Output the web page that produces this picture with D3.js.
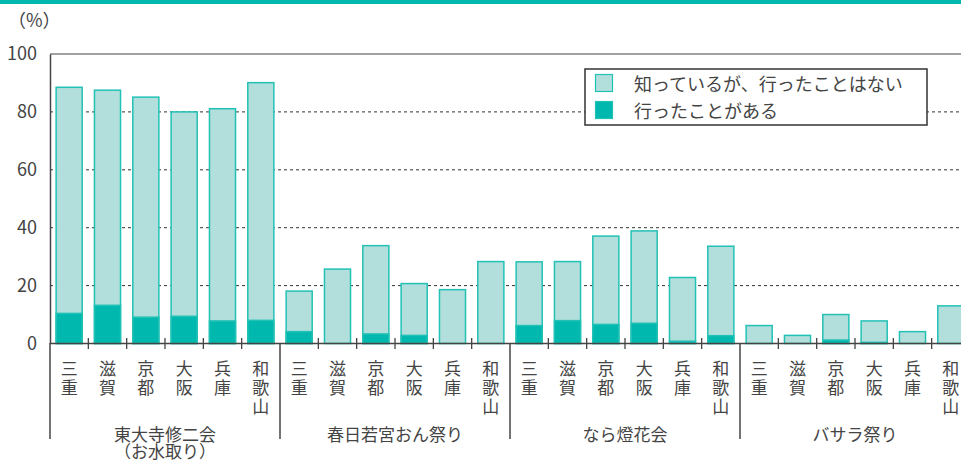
<!DOCTYPE html>
<html lang="ja"><head><meta charset="utf-8">
<script src="https://cdn.jsdelivr.net/npm/d3@7"></script>
<style>
html,body{margin:0;padding:0;background:#fff;}
svg{display:block;font-family:"Noto Sans CJK JP","Noto Sans",sans-serif;}
</style></head>
<body>
<script>
const groups = ["東大寺修二会\n（お水取り）", "春日若宮おん祭り", "なら燈花会", "バサラ祭り"];
const prefectures = ["三重", "滋賀", "京都", "大阪", "兵庫", "和歌山"];
// total = 知っている (incl. visited), visited = 行ったことがある
const totalValues = [
  88.5, 87.5, 85.1, 80.0, 81.1, 90.1,
  18.1, 25.7, 33.8, 20.7, 18.6, 28.3,
  28.2, 28.3, 37.1, 38.9, 22.8, 33.6,
  6.2, 2.8, 10.0, 7.8, 4.1, 13.0
];
const visitedValues = [
  10.4, 13.2, 9.1, 9.4, 7.8, 8.0,
  4.1, 0, 3.3, 2.8, 0, 0,
  6.2, 7.9, 6.6, 7.0, 0.8, 2.7,
  0, 0, 1.2, 0.4, 0, 0
];
const yTicks = [0, 20, 40, 60, 80, 100];
const legendLabels = ["知っているが、行ったことはない", "行ったことがある"];

const W = 961, H = 461;
const lightFill = "#b2dfdb", lightStroke = "#22c1b6", darkFill = "#00b8ae", textCol = "#444";

const svg = d3.select("body").append("svg").attr("width", W).attr("height", H);

svg.append("rect").attr("x", 0).attr("y", 0).attr("width", W).attr("height", 4).attr("fill", "#00b8ae");

const keys = [];
groups.forEach((g, gi) => prefectures.forEach((p, pi) => keys.push(gi + "-" + pi)));

const x = d3.scaleBand().domain(keys).range([50, 970]).paddingInner(0.32).paddingOuter(0.16);
const y = d3.scaleLinear().domain([0, 100]).range([343.5, 54]);

svg.append("g").selectAll("line").data(yTicks.filter(d => d > 0 && d < 100)).join("line")
  .attr("x1", 50).attr("x2", W).attr("y1", d => y(d)).attr("y2", d => y(d))
  .attr("stroke", "#333").attr("stroke-width", 1).attr("stroke-dasharray", "3,3");

svg.append("line").attr("x1", 50).attr("x2", W).attr("y1", y(100)).attr("y2", y(100))
  .attr("stroke", "#444").attr("stroke-width", 1.2);

const yAxis = d3.axisLeft(y).tickValues(yTicks).tickSize(0).tickPadding(13);
const ya = svg.append("g").attr("transform", "translate(50,0)").call(yAxis);
ya.select(".domain").attr("stroke", "#444").attr("stroke-width", 1.5);
ya.selectAll("text").attr("fill", textCol).attr("font-size", 18)
  .attr("font-family", "'Noto Sans CJK JP',sans-serif");

svg.append("text").attr("x", 8).attr("y", 19).attr("dominant-baseline", "central")
  .attr("font-size", 18).attr("fill", textCol).text("（%）");

const bars = svg.append("g");
bars.selectAll("rect.total").data(keys).join("rect").attr("class", "total")
  .attr("x", k => x(k)).attr("width", x.bandwidth())
  .attr("y", (k, i) => y(totalValues[i])).attr("height", (k, i) => y(0) - y(totalValues[i]))
  .attr("fill", lightFill).attr("stroke", lightStroke).attr("stroke-width", 1.5);
bars.selectAll("rect.visited").data(keys).join("rect").attr("class", "visited")
  .attr("x", k => x(k)).attr("width", x.bandwidth())
  .attr("y", (k, i) => y(visitedValues[i])).attr("height", (k, i) => y(0) - y(visitedValues[i]))
  .attr("fill", darkFill).attr("stroke", (k, i) => visitedValues[i] > 0 ? lightStroke : "none").attr("stroke-width", 1.5);

svg.append("line").attr("x1", 50).attr("x2", W).attr("y1", y(0)).attr("y2", y(0))
  .attr("stroke", "#444").attr("stroke-width", 1.5);

const step = x.step();
keys.forEach((k, i) => {
  const bx = x(k) - (step - x.bandwidth()) / 2;
  if (i % 6 !== 0) {
    svg.append("line").attr("x1", bx).attr("x2", bx).attr("y1", 338).attr("y2", 349)
      .attr("stroke", "#444").attr("stroke-width", 1.3);
  }
});
groups.forEach((g, gi) => {
  const bx = x(gi + "-0") - (step - x.bandwidth()) / 2;
  svg.append("line").attr("x1", bx).attr("x2", bx).attr("y1", 343).attr("y2", 439)
    .attr("stroke", "#444").attr("stroke-width", 1.5);
});

// vertical category labels
keys.forEach((k, i) => {
  const name = prefectures[i % 6];
  const cx = x(k) + x.bandwidth() / 2;
  svg.append("text").attr("x", cx).attr("y", 360)
    .style("writing-mode", "vertical-rl").style("letter-spacing", "2px")
    .attr("font-size", 17).attr("fill", textCol).text(name);
});

groups.forEach((g, gi) => {
  const k0 = x(gi + "-0") - (step - x.bandwidth()) / 2;
  const cx = k0 + step * 3;
  const t = svg.append("text").attr("text-anchor", "middle").attr("font-size", 17).attr("fill", textCol);
  g.split("\n").forEach((line, li) => {
    t.append("tspan").attr("x", cx).attr("y", 433 + li * 17).attr("dominant-baseline", "central").text(line);
  });
});

const lg = svg.append("g");
lg.append("rect").attr("x", 585).attr("y", 69).attr("width", 342).attr("height", 56)
  .attr("fill", "#fff").attr("stroke", "#333").attr("stroke-width", 1.5);
legendLabels.forEach((l, i) => {
  const yy = 74 + i * 27;
  lg.append("rect").attr("x", 595.5).attr("y", yy + 0.5).attr("width", 17).attr("height", 17)
    .attr("fill", i === 0 ? lightFill : darkFill).attr("stroke", lightStroke).attr("stroke-width", 1.2);
  lg.append("text").attr("x", 634).attr("y", yy + 9).attr("dominant-baseline", "central")
    .attr("font-size", 18).attr("fill", textCol).text(l);
});
</script>
</body></html>
